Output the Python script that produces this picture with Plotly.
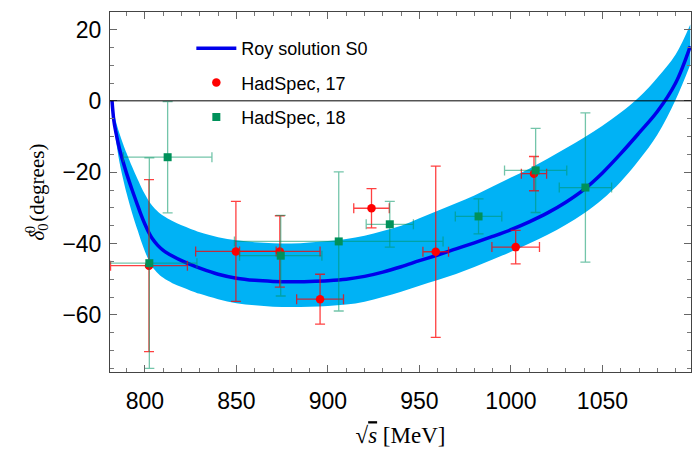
import plotly.graph_objects as go

# Roy solution S0 (central curve and uncertainty band)
s_curve = [782, 783, 784, 786, 788, 790, 793, 796, 798, 800, 802, 804, 807, 810, 815, 820, 825,
           830, 840, 850, 860, 870, 880, 890, 900, 910, 920, 930, 940, 950, 960, 970, 980, 990,
           1000, 1010, 1020, 1030, 1040, 1050, 1060, 1070, 1080, 1090, 1098]
roy_central = [0, -5.5, -8.5, -13.3, -17, -20.4, -25, -29.3, -32.1, -34.6, -36.8, -38.6, -40.5,
               -41.9, -43.5, -44.8, -45.9, -46.9, -48.6, -49.7, -50.3, -50.6, -50.7, -50.6,
               -50.4, -50, -49.2, -48, -46.5, -44.8, -43.2, -41.5, -39.8, -38, -36.1, -33.9,
               -31.4, -28.4, -24.8, -20.2, -14.8, -9, -3, 5, 15.3]
roy_upper = [0, -3.2, -5.5, -9, -12, -14.7, -18.5, -22, -24.2, -26.2, -28, -29.4, -31, -32.2,
             -33.7, -34.9, -35.9, -36.8, -38.2, -39.1, -39.6, -39.9, -40, -39.7, -39.3, -38.7,
             -37.8, -36.5, -35, -32.9, -30.8, -28.7, -26.5, -24, -21.5, -19, -16.2, -13.3,
             -10.3, -7, -3.3, 1, 6.5, 13, 21.4]
roy_lower = [0, -7, -10.5, -17, -21.8, -26, -31.5, -36.3, -39.4, -42.2, -44.6, -46.5, -48.3, -49.6,
             -51.1, -52.2, -53.2, -54.1, -55.6, -56.7, -57.3, -57.7, -57.8, -57.7, -57.5, -57.1,
             -56.3, -55, -53.5, -51.8, -50.2, -48.5, -46.6, -44.5, -42.3, -40, -37.5, -34.7,
             -31.5, -27.6, -22.7, -16.6, -9.5, 0.3, 10.1]

# HadSpec, 17
hs17_x = [802.2, 849.7, 873.7, 895.7, 923.8, 958.9, 1002.6, 1012.6]
hs17_y = [-46.2, -42.2, -42.2, -55.6, -30.1, -42.3, -41.0, -20.4]
hs17_xerr = [21, 22, 22, 12.8, 9.7, 7, 13, 6.9]
hs17_yerr = [24.1, 14, 10, 7, 5.5, 24, 4.7, 4.8]

# HadSpec, 18
hs18_x = [802.4, 812.4, 874.2, 905.9, 933.8, 982.3, 1013.5, 1040.7]
hs18_y = [-45.5, -15.8, -43.4, -39.4, -34.6, -32.4, -19.5, -24.3]
hs18_xerr = [26, 24.2, 22.5, 57, 12.9, 12.7, 17, 14.3]
hs18_yerr = [29.5, 15.6, 11.3, 19.5, 6.4, 4.9, 11.8, 20.9]

x_ticks = [800, 850, 900, 950, 1000, 1050]
y_ticks = [-60, -40, -20, 0, 20]
y_ticklabels = ["\u221260", "\u221240", "\u221220", "0", "20"]

band_color = "rgb(0,178,245)"
curve_color = "rgb(0,0,235)"
red = "rgb(255,0,0)"
green = "rgb(0,145,90)"

fig = go.Figure()

fig.add_trace(go.Scatter(x=s_curve, y=roy_lower, mode="lines",
                         line=dict(width=0, color=band_color, shape="spline", smoothing=1),
                         showlegend=False, hoverinfo="skip"))
fig.add_trace(go.Scatter(x=s_curve, y=roy_upper, mode="lines",
                         line=dict(width=0, color=band_color, shape="spline", smoothing=1),
                         fill="tonexty", fillcolor=band_color, showlegend=False, hoverinfo="skip"))
fig.add_trace(go.Scatter(x=s_curve, y=roy_central, mode="lines",
                         line=dict(width=3.5, color=curve_color, shape="spline", smoothing=1),
                         name="Roy solution S0", legendgroup="a"))

fig.add_trace(go.Scatter(
    x=hs17_x, y=hs17_y, mode="markers", name="HadSpec, 17", legendgroup="b",
    marker=dict(symbol="circle", size=8.5, color=red),
    error_x=dict(type="data", array=hs17_xerr, color="rgba(255,0,0,0.75)", thickness=1.3, width=5),
    error_y=dict(type="data", array=hs17_yerr, color="rgba(255,0,0,0.75)", thickness=1.3, width=5),
))
fig.add_trace(go.Scatter(
    x=hs18_x, y=hs18_y, mode="markers", name="HadSpec, 18", legendgroup="c",
    marker=dict(symbol="square", size=8, color=green),
    error_x=dict(type="data", array=hs18_xerr, color="rgba(0,150,100,0.55)", thickness=1.3, width=5),
    error_y=dict(type="data", array=hs18_yerr, color="rgba(0,150,100,0.55)", thickness=1.3, width=5),
))

fig.add_hline(y=0, line=dict(color="black", width=1), layer="above")

axis_common = dict(
    showline=True, linecolor="#444", linewidth=1, mirror="ticks",
    ticks="inside", ticklen=7, tickcolor="#666", tickwidth=1,
    showgrid=False, zeroline=False,
    tickfont=dict(family="Liberation Sans, Arial", size=23, color="black"),
)

fig.update_xaxes(
    range=[780.9, 1098.4], tickvals=x_ticks,
    minor=dict(dtick=10, tick0=800, ticks="inside", ticklen=4, tickcolor="#777", showgrid=False),
    title=dict(text="\u221a<span style='text-decoration:overline'><i>s</i></span> [MeV]",
               font=dict(family="Liberation Serif, Times New Roman", size=23, color="black"),
               standoff=14),
    ticklabelstandoff=8,
    **axis_common,
)
fig.update_yaxes(
    range=[-76.0, 24.9], tickvals=y_ticks, ticktext=y_ticklabels,
    minor=dict(dtick=5, tick0=0, ticks="inside", ticklen=4, tickcolor="#777", showgrid=False),
    title=dict(text="<i>\u03b4</i><sub><span style='letter-spacing:-10px'>0</span></sub><sup>0</sup>&#8201;(degrees)",
               font=dict(family="Liberation Serif, Times New Roman", size=21, color="black"),
               standoff=12),
    ticklabelstandoff=3,
    **axis_common,
)

fig.update_layout(
    width=693, height=458,
    margin=dict(l=110, r=2, t=12, b=86),
    paper_bgcolor="white", plot_bgcolor="white",
    showlegend=True,
    legend=dict(x=0.14, y=0.95, xanchor="left", yanchor="top", bgcolor="rgba(0,0,0,0)",
                font=dict(family="Liberation Sans, Arial", size=18, color="black"),
                tracegroupgap=8, itemwidth=40),
)

fig.write_html("out.html")
